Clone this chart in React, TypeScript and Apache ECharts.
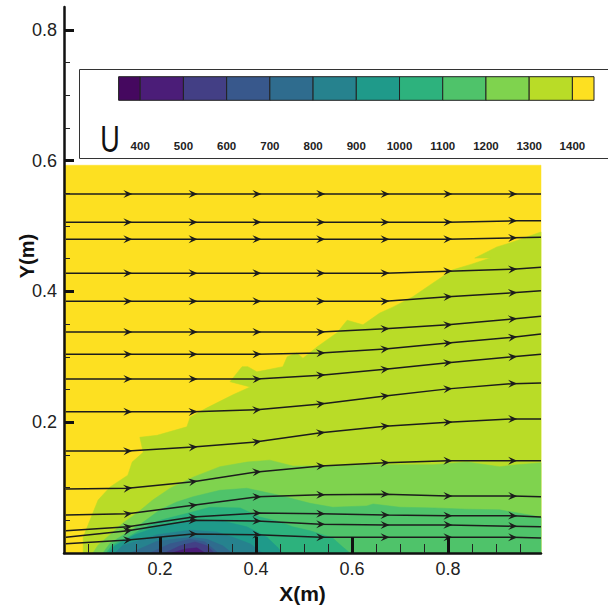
import React, { useEffect, useRef } from "react";
import * as echarts from "echarts";

const X_MAX = 0.994;
const Y_MAX = 0.835;
const FIELD_TOP = 0.593;
const FONT = "'Liberation Sans', sans-serif";

const xTicks = [0.2, 0.4, 0.6, 0.8];
const yTicks = [0.2, 0.4, 0.6, 0.8];
const levelEdges = [350, 400, 500, 600, 700, 800, 900, 1000, 1100, 1200, 1300, 1400, 1450];
const legendLabels = [400, 500, 600, 700, 800, 900, 1000, 1100, 1200, 1300, 1400];
const levelColors = ["#45085f", "#4b1d78", "#433f85", "#38588c", "#2f6c8e", "#26828e", "#1f9a8a", "#2db27d", "#4fc36a", "#7fd34e", "#b9dc27", "#fde021"];

const contour1400 = [[.040,0],[.040,.024],[.054,.050],[.071,.081],[.096,.101],[.133,.119],[.142,.139],[.165,.154],[.158,.177],[.194,.180],[.256,.193],[.263,.208],[.298,.222],[.352,.242],[.388,.254],[.346,.262],[.371,.285],[.383,.285],[.402,.277],[.456,.285],[.465,.300],[.485,.306],[.498,.298],[.527,.315],[.569,.337],[.590,.356],[.623,.349],[.658,.367],[.685,.376],[.727,.392],[.769,.413],[.810,.433],[.846,.441],[.888,.451],[.856,.451],[.902,.468],[.929,.474],[.994,.491],[.994,0]];
const contour1300 = [[.060,0],[.071,.012],[.096,.028],[.123,.046],[.152,.061],[.185,.081],[.221,.099],[.269,.116],[.325,.132],[.381,.139],[.429,.142],[.477,.133],[.513,.133],[.560,.133],[.631,.135],[.700,.135],[.769,.135],[.840,.139],[.908,.132],[.944,.135],[.994,.138],[.994,0]];
const contour1200 = [[.081,0],[.096,.015],[.131,.031],[.165,.047],[.200,.066],[.235,.078],[.269,.086],[.325,.096],[.381,.099],[.444,.089],[.513,.076],[.560,.070],[.631,.072],[.644,.075],[.700,.070],[.769,.069],[.840,.067],[.908,.066],[.994,.055],[.994,0]];
const contour1100 = [[.088,0],[.100,.012],[.131,.023],[.165,.038],[.200,.050],[.269,.063],[.304,.070],[.367,.069],[.408,.055],[.444,.049],[.477,.040],[.513,.034],[.560,.023],[.581,.009],[.596,0]];
const contour1000 = [[.092,0],[.106,.011],[.148,.028],[.194,.040],[.263,.050],[.331,.049],[.381,.040],[.423,.024],[.446,.008],[.454,0]];
const contour900 = [[.106,0],[.123,.012],[.194,.028],[.263,.035],[.319,.032],[.352,.024],[.388,.014],[.413,0]];
const contour800 = [[.138,0],[.194,.018],[.263,.024],[.298,.021],[.331,.011],[.350,0]];
const contour700 = [[.179,0],[.221,.014],[.263,.021],[.294,.017],[.321,0]];
const contour600 = [[.210,0],[.242,.011],[.273,.017],[.298,.011],[.313,0]];
const contour500 = [[.225,0],[.252,.006],[.277,.008],[.294,0]];

const fieldBase = [[0,0],[X_MAX,0],[X_MAX,FIELD_TOP],[0,FIELD_TOP]];
const bands = [
  { pts: fieldBase, color: levelColors[11] },
  { pts: contour1400, color: levelColors[10] },
  { pts: contour1300, color: levelColors[9] },
  { pts: contour1200, color: levelColors[8] },
  { pts: contour1100, color: levelColors[7] },
  { pts: contour1000, color: levelColors[6] },
  { pts: contour900, color: levelColors[5] },
  { pts: contour800, color: levelColors[4] },
  { pts: contour700, color: levelColors[3] },
  { pts: contour600, color: levelColors[2] },
  { pts: contour500, color: levelColors[1] },
];

const stations = [.004,.133,.269,.402,.535,.669,.800,.935,.994];
const streamlines = [
  [.549,.549,.549,.549,.549,.549,.549,.549,.549],
  [.506,.506,.506,.506,.506,.506,.506,.508,.508],
  [.480,.480,.480,.480,.480,.480,.480,.482,.483],
  [.428,.428,.428,.428,.428,.428,.431,.434,.437],
  [.385,.385,.385,.385,.385,.385,.392,.398,.401],
  [.338,.338,.338,.338,.338,.343,.349,.358,.362],
  [.304,.304,.304,.304,.306,.312,.321,.330,.335],
  [.266,.266,.266,.266,.272,.281,.291,.300,.304],
  [.216,.216,.216,.219,.228,.240,.251,.259,.260],
  [.156,.156,.162,.170,.184,.194,.200,.205,.205],
  [.098,.099,.109,.124,.133,.138,.141,.141,.141],
  [.058,.060,.073,.086,.089,.090,.087,.087,.086],
  [.034,.040,.055,.061,.060,.058,.057,.057,.055],
  [.024,.034,.050,.049,.044,.043,.043,.041,.040],
  [.014,.020,.029,.028,.024,.024,.024,.024,.023],
];

const arrowData: number[][] = [];
streamlines.forEach((line) => {
  for (let i = 1; i < stations.length - 1; i++) {
    arrowData.push([stations[i], line[i], stations[i + 1], line[i + 1]]);
  }
});

export default function App() {
  const ref = useRef<HTMLDivElement>(null);
  useEffect(() => {
    const chart = echarts.init(ref.current!, null, { renderer: "svg" });
    const mainAxis = {
      type: "value" as const,
      min: 0,
      interval: 0.2,
      z: 10,
      splitLine: { show: false },
      axisLine: { show: true, onZero: false, lineStyle: { color: "#111", width: 2.5 } },
    };
    const mainLabel = { color: "#222", fontFamily: FONT, fontSize: 18, formatter: (v: number) => v.toFixed(1), margin: 7 };
    chart.setOption({
      animation: false,
      backgroundColor: "#fff",
      grid: [
        { left: 64, top: 7, width: 477, height: 546, outerBoundsMode: "none" },
        { left: 118.6, top: 76.7, width: 475.4, height: 23.6, outerBoundsMode: "none" },
      ],
      xAxis: [
        {
          ...mainAxis,
          gridIndex: 0,
          max: X_MAX,
          axisLabel: { ...mainLabel, customValues: xTicks },
          axisTick: { show: true, inside: true, length: 16, customValues: xTicks, lineStyle: { color: "#111", width: 3 } },
          minorTick: { show: true, splitNumber: 4, length: 9, lineStyle: { color: "#222", width: 1 } },
          name: "X(m)",
          nameLocation: "middle",
          nameGap: 29,
          nameTextStyle: { color: "#111", fontFamily: FONT, fontSize: 21, fontWeight: "bold" },
        },
        {
          type: "value",
          gridIndex: 1,
          min: 350,
          max: 1450,
          axisLine: { show: false },
          axisTick: { show: false },
          splitLine: { show: false },
          axisLabel: { customValues: legendLabels, formatter: (v: number) => String(v), color: "#222", fontFamily: FONT, fontWeight: "bold", fontSize: 11.5, margin: 40 },
        },
      ],
      yAxis: [
        {
          ...mainAxis,
          gridIndex: 0,
          max: Y_MAX,
          axisLabel: { ...mainLabel, customValues: yTicks },
          axisTick: { show: true, inside: true, length: 10, customValues: yTicks, lineStyle: { color: "#111", width: 3 } },
          minorTick: { show: true, splitNumber: 4, length: 6, lineStyle: { color: "#222", width: 1 } },
          name: "Y(m)",
          nameLocation: "middle",
          nameMoveOverlap: false,
          nameGap: 27,
          nameTextStyle: { color: "#111", fontFamily: FONT, fontSize: 20, fontWeight: "bold", padding: [0, 0, 0, 48] },
        },
        { type: "value", gridIndex: 1, min: 0, max: 1, show: false },
      ],
      graphic: [
        { type: "rect", z: 0, shape: { x: 79.5, y: 69.5, width: 530, height: 89 }, style: { fill: "#fff", stroke: "#333", lineWidth: 1 } },
        { type: "text", z: 5, x: 110, y: 140, scaleX: 0.75, style: { text: "U", fill: "#111", font: `36px ${FONT}`, align: "center", verticalAlign: "middle" } },
      ],
      series: [
        {
          type: "custom",
          xAxisIndex: 0,
          yAxisIndex: 0,
          silent: true,
          z: 2,
          clip: false,
          data: bands.map((_, i) => [i]),
          encode: { x: 0 },
          renderItem: (params: any, api: any) => {
            const b = bands[params.dataIndex];
            return { type: "polygon", shape: { points: b.pts.map((p) => api.coord(p)) }, style: { fill: b.color, stroke: b.color, lineWidth: 0.5 } };
          },
        },
        ...streamlines.map((line) => ({
          type: "line",
          xAxisIndex: 0,
          yAxisIndex: 0,
          silent: true,
          z: 3,
          symbol: "none",
          lineStyle: { color: "#1c1c1c", width: 1.5 },
          data: line.map((y, i) => [stations[i], y]),
        })),
        {
          type: "custom",
          xAxisIndex: 0,
          yAxisIndex: 0,
          silent: true,
          z: 4,
          data: arrowData,
          encode: { x: 0, y: 1 },
          renderItem: (_: any, api: any) => {
            const a = api.coord([api.value(0), api.value(1)]);
            const b = api.coord([api.value(2), api.value(3)]);
            const t = Math.atan2(b[1] - a[1], b[0] - a[0]);
            const c = Math.cos(t), s = Math.sin(t);
            const pt = (u: number, v: number) => [a[0] + u * c - v * s, a[1] + u * s + v * c];
            return {
              type: "polygon",
              shape: { points: [pt(4.5, 0), pt(-4.5, -4), pt(-1, 0), pt(-4.5, 4)] },
              style: { fill: "#1c1c1c" },
            };
          },
        },
        {
          type: "custom",
          xAxisIndex: 1,
          yAxisIndex: 1,
          silent: true,
          z: 6,
          data: levelColors.map((_, i) => [levelEdges[i], levelEdges[i + 1]]),
          encode: { x: [0, 1] },
          renderItem: (params: any, api: any) => {
            const p0 = api.coord([api.value(0), 1]);
            const p1 = api.coord([api.value(1), 0]);
            return {
              type: "rect",
              shape: { x: p0[0], y: p0[1], width: p1[0] - p0[0], height: p1[1] - p0[1] },
              style: { fill: levelColors[params.dataIndex], stroke: "#222", lineWidth: 1 },
            };
          },
        },
      ],
    });
    return () => chart.dispose();
  }, []);
  return <div ref={ref} style={{ position: "fixed", left: 0, top: 0, width: 608, height: 608 }} />;
}
